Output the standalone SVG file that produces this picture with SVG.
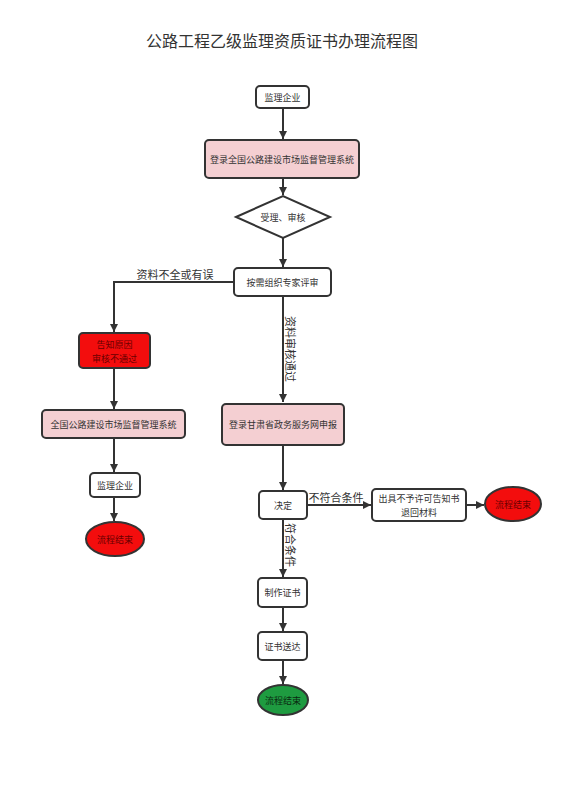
<svg xmlns="http://www.w3.org/2000/svg" width="565" height="800" viewBox="0 0 565 800">
<defs>
<marker id="ah" markerWidth="10" markerHeight="10" refX="9" refY="5" orient="auto" markerUnits="userSpaceOnUse">
<path d="M1,1 L9,5 L1,9 Z" fill="#333"/>
</marker>
<style>
.t{font-family:"Noto Sans CJK SC","Noto Sans",sans-serif;fill:#333;text-anchor:middle;dominant-baseline:central}
.s{font-size:9px}
.l{font-size:11px}
.box{fill:#fff;stroke:#333;stroke-width:2}
.pink{fill:#f4cfd2;stroke:#333;stroke-width:2}
.red{fill:#f30d0d;stroke:#333;stroke-width:2}
.green{fill:#1e9b40;stroke:#333;stroke-width:2}
.rt{fill:#6a0000}
.c{fill:none;stroke:#333;stroke-width:2;marker-end:url(#ah)}
</style>
</defs>
<rect width="565" height="800" fill="#fff"/>
<text class="t" x="282" y="40" style="font-size:16px">公路工程乙级监理资质证书办理流程图</text>
<g id="connectors">
<path class="c" d="M283,108 V139"/>
<path class="c" d="M283,178 V195"/>
<path class="c" d="M283,238 V267"/>
<path class="c" d="M234,282 H114 V332"/>
<path class="c" d="M114,368 V409"/>
<path class="c" d="M114,438 V472"/>
<path class="c" d="M114,497 V521"/>
<path class="c" d="M283,296 V402"/>
<path class="c" d="M283,445 V490"/>
<path class="c" d="M307,505 H371"/>
<path class="c" d="M466,505 H484"/>
<path class="c" d="M283,519 V577"/>
<path class="c" d="M283,607 V631"/>
<path class="c" d="M283,660 V684"/>
<text class="t l" x="175" y="274">资料不全或有误</text>
<text class="t l" x="336" y="497">不符合条件</text>
<text class="t l" transform="translate(291,349) rotate(90)">资料审核通过</text>
<text class="t l" transform="translate(291,545) rotate(90)">符合条件</text>
</g>
<g id="n1"><rect class="box" x="256" y="86" width="53" height="22" rx="4"/><text class="t s" x="282.5" y="97">监理企业</text></g>
<g id="n2"><rect class="pink" x="205" y="140" width="154" height="38" rx="4"/><text class="t s" x="282" y="159">登录全国公路建设市场监督管理系统</text></g>
<g id="n3"><path class="box" d="M236,217 L283,196 L330,217 L283,238 Z"/><text class="t s" x="283" y="217">受理、审核</text></g>
<g id="n4"><rect class="box" x="234" y="268" width="97" height="28" rx="4"/><text class="t s" x="282.5" y="282">按需组织专家评审</text></g>
<g id="n5"><rect class="red" x="79" y="333" width="71" height="35" rx="4"/><text class="t s rt" x="114.5" y="344">告知原因</text><text class="t s rt" x="114.5" y="358">审核不通过</text></g>
<g id="n6"><rect class="pink" x="42" y="410" width="143" height="28" rx="4"/><text class="t s" x="113.5" y="424">全国公路建设市场监督管理系统</text></g>
<g id="n7"><rect class="box" x="90" y="473" width="50" height="24" rx="4"/><text class="t s" x="115" y="485">监理企业</text></g>
<g id="n8"><ellipse class="red" cx="115" cy="539" rx="29" ry="17"/><text class="t s rt" x="115" y="539">流程结束</text></g>
<g id="n9"><rect class="pink" x="222" y="404" width="122" height="41" rx="4"/><text class="t s" x="283" y="424.5">登录甘肃省政务服务网申报</text></g>
<g id="n10"><rect class="box" x="259" y="491" width="48" height="28" rx="4"/><text class="t s" x="283" y="505">决定</text></g>
<g id="n11"><rect class="box" x="372" y="489" width="94" height="32" rx="4"/><text class="t s" x="419" y="498">出具不予许可告知书</text><text class="t s" x="419" y="512">退回材料</text></g>
<g id="n12"><ellipse class="red" cx="513" cy="504" rx="28" ry="17"/><text class="t s rt" x="513" y="504">流程结束</text></g>
<g id="n13"><rect class="box" x="258" y="578" width="49" height="29" rx="4"/><text class="t s" x="282.5" y="592.5">制作证书</text></g>
<g id="n14"><rect class="box" x="258" y="632" width="49" height="28" rx="4"/><text class="t s" x="282.5" y="646">证书送达</text></g>
<g id="n15"><ellipse class="green" cx="283" cy="700" rx="25" ry="15"/><text class="t s" x="283" y="700" style="fill:#0a2a10">流程结束</text></g>
</svg>
